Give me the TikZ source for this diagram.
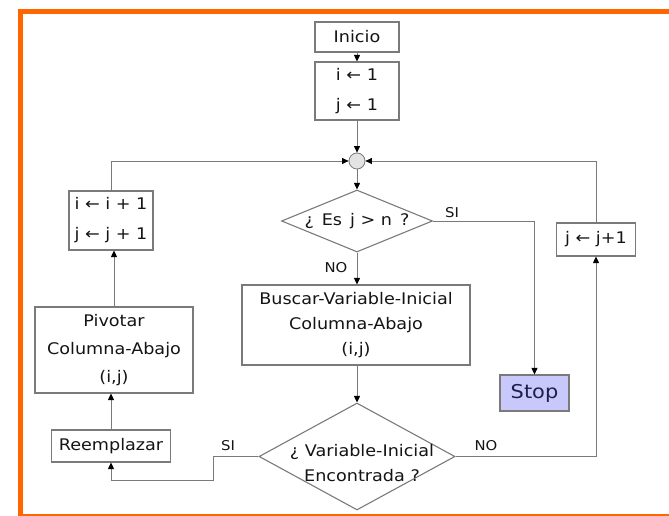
\documentclass[tikz,border=0pt]{standalone}
\usepackage{fontspec}
\setmainfont[FakeStretch=1.1]{DejaVu Sans}
\usetikzlibrary{shapes.geometric,arrows.meta}
\definecolor{frameorange}{HTML}{FF6600}
\definecolor{linegray}{HTML}{7A7A7A}
\definecolor{stopfill}{HTML}{C8C8FA}
\definecolor{stoptext}{HTML}{1E1E4A}
\definecolor{txt}{HTML}{141414}
\begin{document}
\begin{tikzpicture}[x=1pt,y=-1pt,
  every node/.style={text=txt},
  box/.style={draw=linegray,line width=1.1pt,rectangle,inner sep=0pt,align=center,
     font=\fontsize{16}{28}\selectfont},
  decision/.style={draw=linegray,line width=1.1pt,diamond,inner sep=0pt,aspect=2.4},
  conn/.style={draw=linegray,line width=0.9pt},
  arr/.style={conn,-{Triangle[length=6.5pt,width=6pt,black]}},
  lbl/.style={font=\fontsize{13.5}{15}\selectfont,inner sep=0pt},
  joint/.style={circle,draw=linegray,fill=gray!22,line width=0.8pt,minimum size=16pt,inner sep=0pt}]
\useasboundingbox (0,0) rectangle (669,516);
\begin{scope}
\clip (0,0) rectangle (669,516);
\draw[frameorange,line width=5pt] (20,11.5) rectangle (720,516);
\end{scope}

\node[box,minimum width=84pt,minimum height=30pt] (inicio) at (357,37) {Inicio};
\node[box,minimum width=84pt,minimum height=58pt,font=\fontsize{16}{30}\selectfont] (init) at (357,91) {i ← 1\\j ← 1};
\node[joint] (circ) at (357,161) {};
\node[decision,minimum width=151pt,minimum height=62pt,font=\fontsize{16}{18}\selectfont] (d1) at (357,221) {¿\enspace Es\enspace j > n\enspace ?};
\node[box,minimum width=228pt,minimum height=80pt,font=\fontsize{16}{25}\selectfont] (buscar) at (356,325) {Buscar-Variable-Inicial\\Columna-Abajo\\(i,j)};
\node[box,minimum width=69pt,minimum height=36pt,fill=stopfill,text=stoptext,font=\fontsize{19}{22}\selectfont] (stop) at (534.5,393) {Stop};
\node[decision,minimum width=196pt,minimum height=107pt] (d2) at (357,456.5) {};
\node[align=center,inner sep=0pt,font=\fontsize{16}{25}\selectfont] (d2text) at (362,463) {¿ Variable-Inicial\\Encontrada ?};
\node[box,minimum width=84pt,minimum height=59pt,font=\fontsize{16}{30}\selectfont] (inc) at (111,220.5) {i ← i + 1\\j ← j + 1};
\node[box,minimum width=79pt,minimum height=33pt] (jinc) at (596,239.5) {j ← j+1};
\node[box,minimum width=158pt,minimum height=86pt] (pivotar) at (114,350) {Pivotar\\Columna-Abajo\\(i,j)};
\node[box,minimum width=119pt,minimum height=32pt] (reemp) at (111,446) {Reemplazar};

\coordinate (siturn) at (213,456.5);
\coordinate (sibottom) at (213,480);

\draw[arr] (inicio) -- (init);
\draw[arr] (init) -- (circ);
\draw[arr] (circ) -- (d1);
\draw[arr] (inc.north) |- (circ.west);
\draw[arr] (jinc.north) |- (circ.east);
\draw[arr] (d1.east) -| (stop.north);
\draw[arr] (d1.south) -- (d1.south |- buscar.north);
\draw[arr] (d2.north |- buscar.south) -- (d2.north);
\draw[arr] (d2.east) -| (jinc.south);
\draw[arr] (d2.west) -- (siturn) -- (sibottom) -| (reemp.south);
\draw[arr] (reemp.north) -- (reemp.north |- pivotar.south);
\draw[arr] (pivotar.north) -- (pivotar.north |- inc.south);

\node[lbl] (si1) at (452,213) {SI};
\node[lbl] (no1) at (336,268) {NO};
\node[lbl] (si2) at (228,446) {SI};
\node[lbl] (no2) at (486,446) {NO};
\end{tikzpicture}
\end{document}
